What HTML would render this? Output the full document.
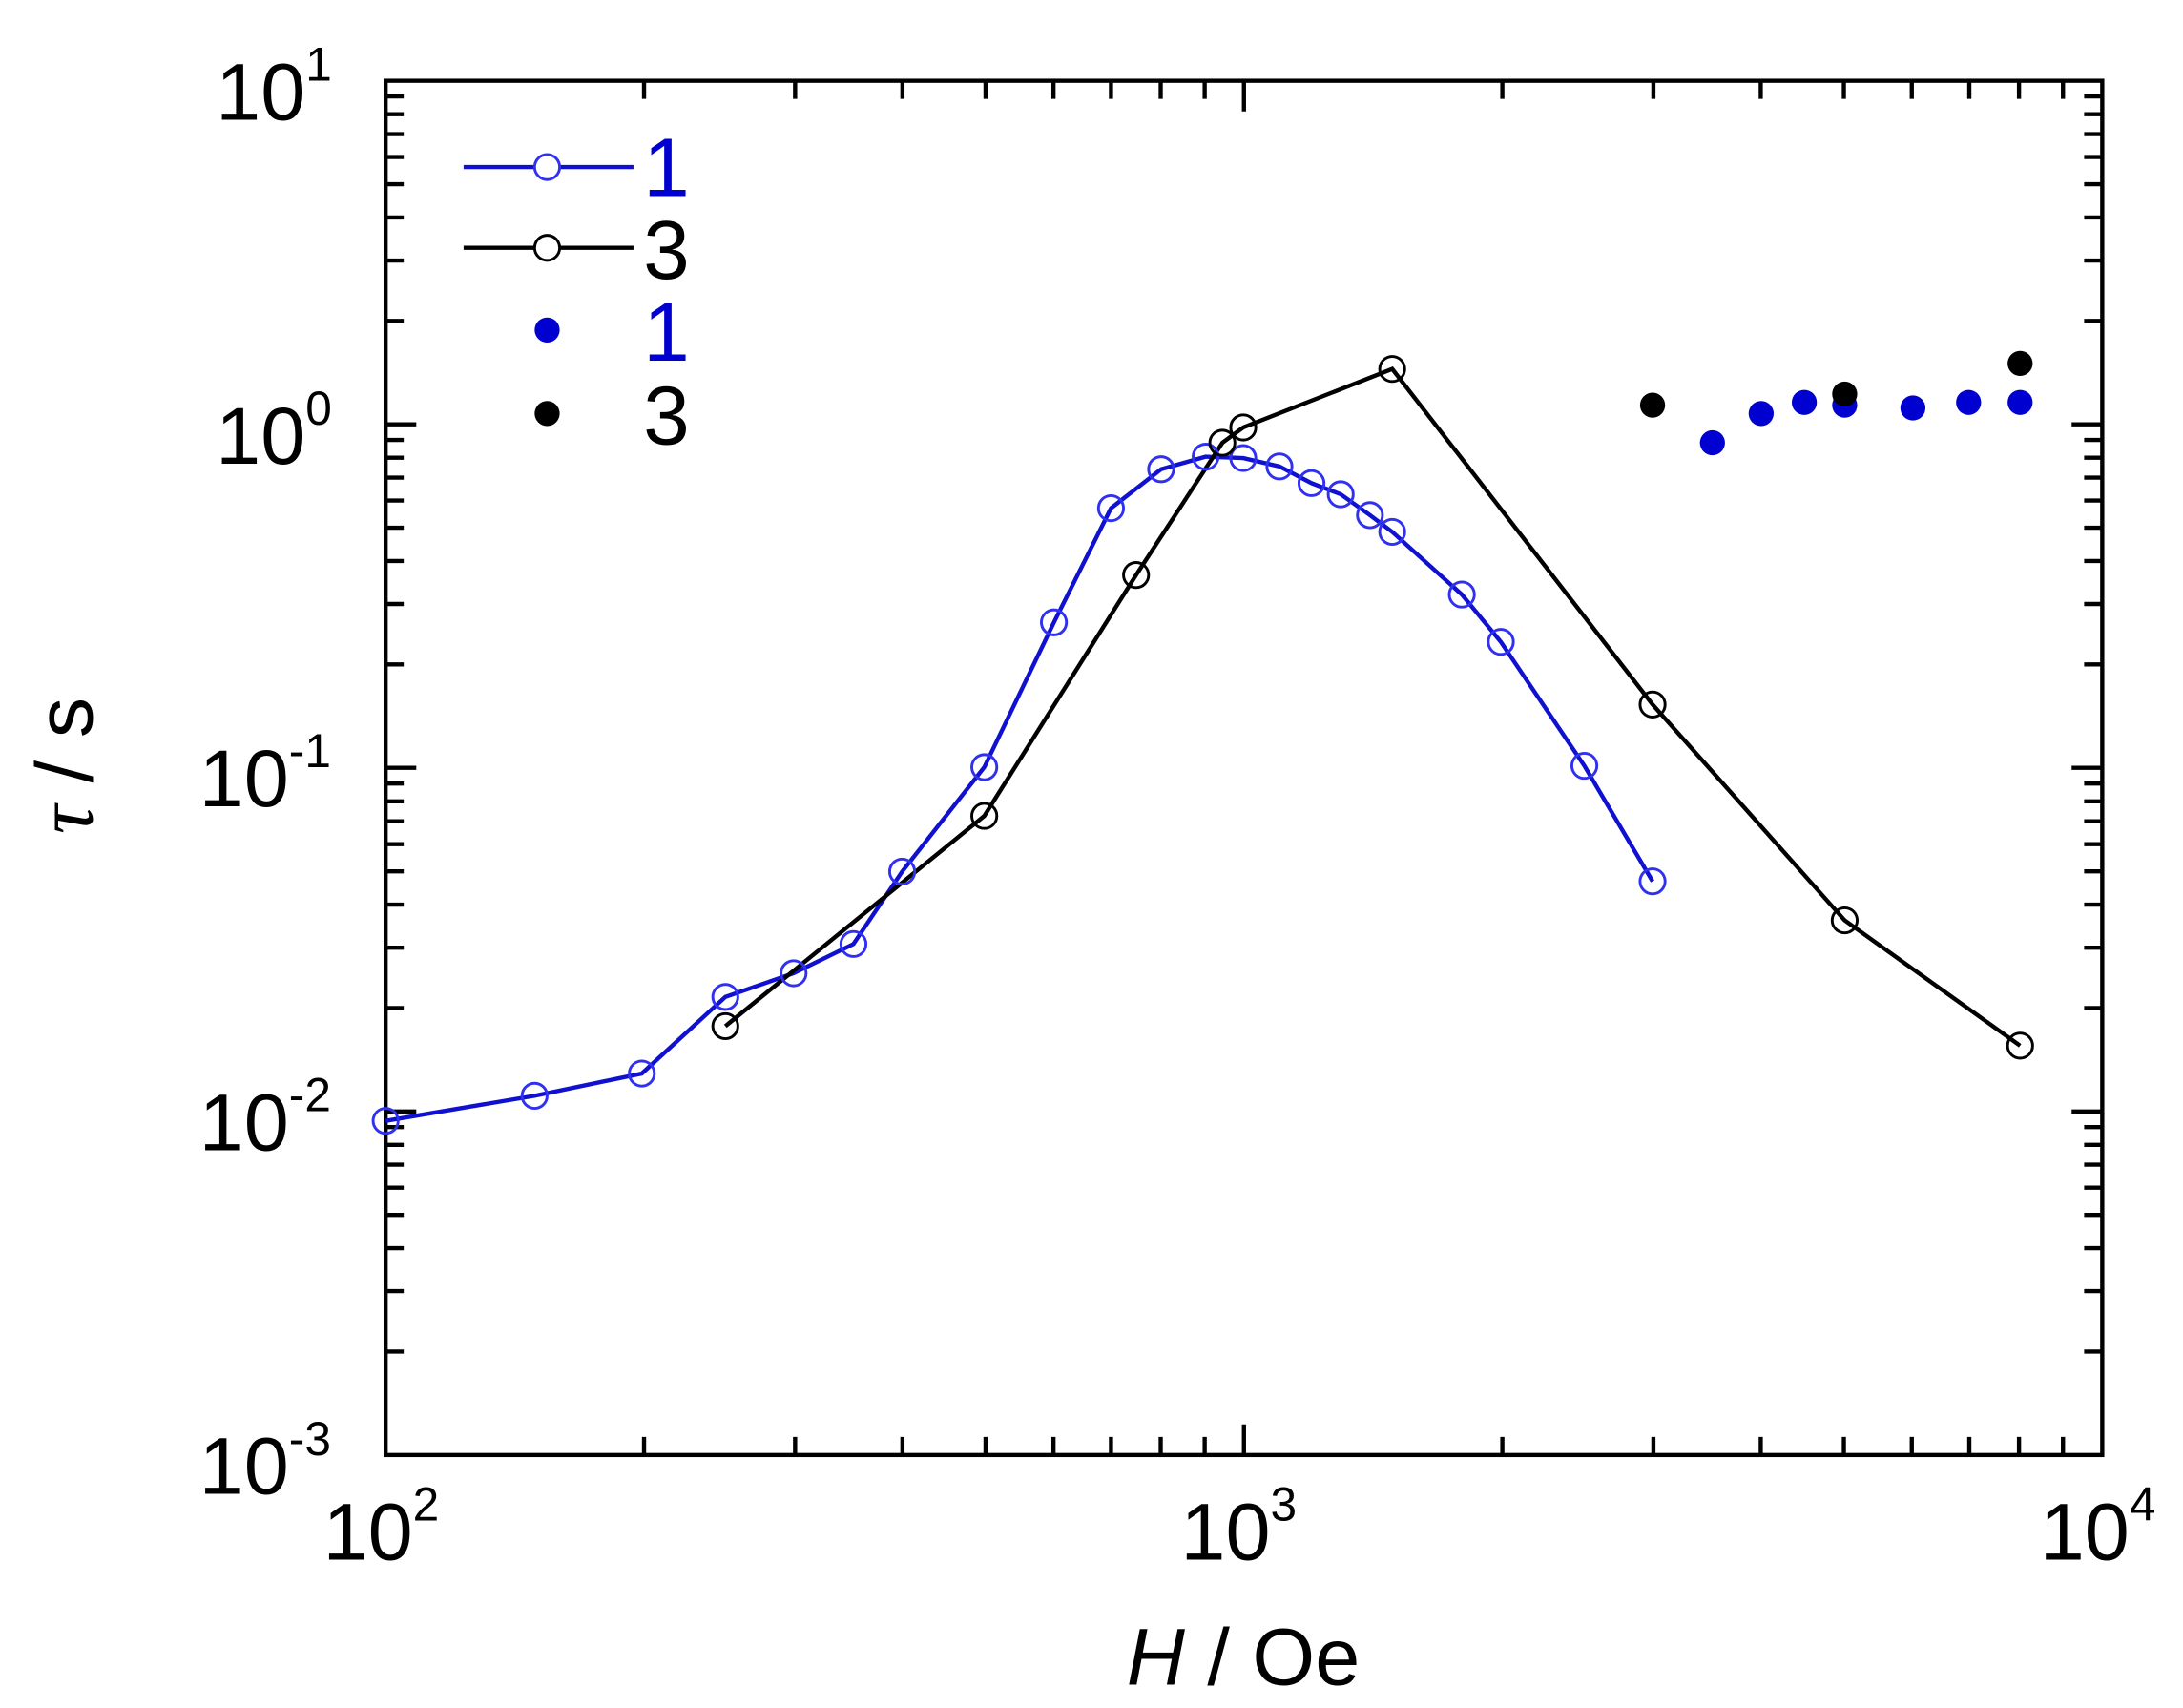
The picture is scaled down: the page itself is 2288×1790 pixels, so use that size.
<!DOCTYPE html>
<html><head><style>html,body{margin:0;padding:0;background:#fff}svg{display:block}</style></head>
<body>
<svg width="2288" height="1790" viewBox="0 0 1568 1226.7" preserveAspectRatio="none" xmlns="http://www.w3.org/2000/svg" font-family="Liberation Sans, sans-serif">
<g stroke="#000" stroke-width="3" fill="none">
<path d="M462.6,1045v-13M571.1,1045v-13M648.2,1045v-13M707.9,1045v-13M756.7,1045v-13M798,1045v-13M833.7,1045v-13M865.3,1045v-13M893.5,1045v-22M1079.1,1045v-13M1187.6,1045v-13M1264.7,1045v-13M1324.4,1045v-13M1373.2,1045v-13M1414.5,1045v-13M1450.2,1045v-13M1481.8,1045v-13
M462.6,58v13M571.1,58v13M648.2,58v13M707.9,58v13M756.7,58v13M798,58v13M833.7,58v13M865.3,58v13M893.5,58v22M1079.1,58v13M1187.6,58v13M1264.7,58v13M1324.4,58v13M1373.2,58v13M1414.5,58v13M1450.2,58v13M1481.8,58v13"/>
<path d="M277,970.7h13M277,927.3h13M277,896.4h13M277,872.5h13M277,853h13M277,836.5h13M277,822.2h13M277,809.5h13M277,798.25h22
M277,724h13M277,680.6h13M277,649.7h13M277,625.8h13M277,606.3h13M277,589.8h13M277,575.5h13M277,562.8h13M277,551.5h22
M277,477.2h13M277,433.8h13M277,402.9h13M277,379h13M277,359.5h13M277,343h13M277,328.7h13M277,316h13M277,304.75h22
M277,230.5h13M277,187.1h13M277,156.2h13M277,132.3h13M277,112.8h13M277,96.3h13M277,82h13M277,69.3h13"/>
<path d="M1510,970.7h-13M1510,927.3h-13M1510,896.4h-13M1510,872.5h-13M1510,853h-13M1510,836.5h-13M1510,822.2h-13M1510,809.5h-13M1510,798.25h-22
M1510,724h-13M1510,680.6h-13M1510,649.7h-13M1510,625.8h-13M1510,606.3h-13M1510,589.8h-13M1510,575.5h-13M1510,562.8h-13M1510,551.5h-22
M1510,477.2h-13M1510,433.8h-13M1510,402.9h-13M1510,379h-13M1510,359.5h-13M1510,343h-13M1510,328.7h-13M1510,316h-13M1510,304.75h-22
M1510,230.5h-13M1510,187.1h-13M1510,156.2h-13M1510,132.3h-13M1510,112.8h-13M1510,96.3h-13M1510,82h-13M1510,69.3h-13"/>
</g>
<rect x="277" y="58" width="1233" height="987" fill="none" stroke="#000" stroke-width="3"/>
<g font-size="58" fill="#000">
<text x="155" y="86">10<tspan font-size="34" dy="-28">1</tspan></text>
<text x="155" y="333">10<tspan font-size="34" dy="-28">0</tspan></text>
<text x="143" y="579">10<tspan font-size="34" dy="-28">-1</tspan></text>
<text x="143" y="826">10<tspan font-size="34" dy="-28">-2</tspan></text>
<text x="143" y="1073">10<tspan font-size="34" dy="-28">-3</tspan></text>
<text x="232" y="1120">10<tspan font-size="34" dy="-28">2</tspan></text>
<text x="848" y="1120">10<tspan font-size="34" dy="-28">3</tspan></text>
<text x="1465" y="1120">10<tspan font-size="34" dy="-28">4</tspan></text>
<text x="893" y="1210" text-anchor="middle"><tspan font-style="italic">H</tspan> / Oe</text>
<text transform="translate(66,550) rotate(-90)" text-anchor="middle"><tspan font-family="Liberation Serif, serif" font-style="italic">τ</tspan> / s</text>
</g>
<polyline fill="none" stroke="#1010d0" stroke-width="3" points="277,805 384,787 461,771 521,716 570,699 613,678 648,626 707,551 757,447 798,365 834,337 866,328 893,329 919,335 942,347 963,355 984,370 1000,382 1050,427 1078,461 1138,550 1187,633"/>
<polyline fill="none" stroke="#000" stroke-width="3" points="521,737 707,586 816,413 878,318 893,307 1000,265 1187,506 1325,661 1451,751"/>
<g fill="none" stroke="#3030f0" stroke-width="2">
<circle cx="277" cy="805" r="9"/><circle cx="384" cy="787" r="9"/><circle cx="461" cy="771" r="9"/><circle cx="521" cy="716" r="9"/><circle cx="570" cy="699" r="9"/><circle cx="613" cy="678" r="9"/><circle cx="648" cy="626" r="9"/><circle cx="707" cy="551" r="9"/><circle cx="757" cy="447" r="9"/><circle cx="798" cy="365" r="9"/><circle cx="834" cy="337" r="9"/><circle cx="866" cy="328" r="9"/><circle cx="893" cy="329" r="9"/><circle cx="919" cy="335" r="9"/><circle cx="942" cy="347" r="9"/><circle cx="963" cy="355" r="9"/><circle cx="984" cy="370" r="9"/><circle cx="1000" cy="382" r="9"/><circle cx="1050" cy="427" r="9"/><circle cx="1078" cy="461" r="9"/><circle cx="1138" cy="550" r="9"/><circle cx="1187" cy="633" r="9"/>
</g>
<g fill="none" stroke="#000" stroke-width="2">
<circle cx="521" cy="737" r="9"/><circle cx="707" cy="586" r="9"/><circle cx="816" cy="413" r="9"/><circle cx="878" cy="318" r="9"/><circle cx="893" cy="307" r="9"/><circle cx="1000" cy="265" r="9"/><circle cx="1187" cy="506" r="9"/><circle cx="1325" cy="661" r="9"/><circle cx="1451" cy="751" r="9"/>
</g>
<g fill="#0000d0">
<circle cx="1230" cy="318" r="9"/><circle cx="1265" cy="297" r="9"/><circle cx="1296" cy="289" r="9"/><circle cx="1325" cy="291" r="9"/><circle cx="1374" cy="293" r="9"/><circle cx="1414" cy="289" r="9"/><circle cx="1451" cy="289" r="9"/>
</g>
<g fill="#000">
<circle cx="1187" cy="291" r="9"/><circle cx="1325" cy="283" r="9"/><circle cx="1451" cy="261" r="9"/>
</g>
<line x1="333" y1="120" x2="455" y2="120" stroke="#1010d0" stroke-width="3"/>
<circle cx="393" cy="120" r="9" fill="#fff" stroke="#3030f0" stroke-width="2"/>
<line x1="333" y1="178" x2="455" y2="178" stroke="#000" stroke-width="3"/>
<circle cx="393" cy="178" r="9" fill="#fff" stroke="#000" stroke-width="2"/>
<circle cx="393" cy="237" r="9" fill="#0000d0"/>
<circle cx="393" cy="297" r="9" fill="#000"/>
<g font-size="60">
<text x="462" y="141" fill="#0000d0">1</text>
<text x="462" y="200" fill="#000">3</text>
<text x="462" y="259" fill="#0000d0">1</text>
<text x="462" y="319" fill="#000">3</text>
</g>
</svg>
</body></html>
